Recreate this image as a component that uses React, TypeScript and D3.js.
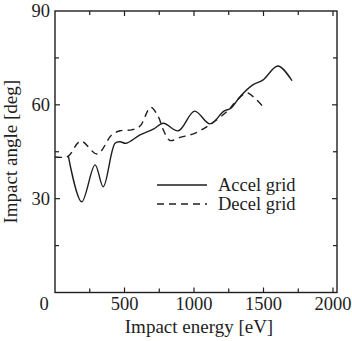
import React from "react";
import * as d3 from "d3";

const accelE = [96, 192, 288, 347, 432, 468, 511, 612, 707, 780, 887, 1004, 1115, 1215, 1265, 1331, 1420, 1495, 1604, 1705];
const accelA = [43.6, 29.0, 40.8, 33.8, 47.7, 48.2, 47.7, 50.4, 52.2, 54.1, 51.7, 58.0, 53.9, 58.0, 58.9, 62.6, 66.3, 67.9, 72.4, 67.7];

const decelE = [0, 50, 96, 185, 304, 408, 468, 552, 612, 688, 743, 779, 827, 899, 1005, 1115, 1240, 1300, 1380, 1440, 1505];
const decelA = [43.3, 43.2, 43.6, 48.4, 44.3, 50.4, 51.7, 52.0, 53.2, 59.2, 56.2, 52.0, 48.6, 49.6, 50.9, 53.7, 58.0, 61.0, 63.8, 62.0, 59.0];

const xTicks = [500, 1000, 1500, 2000];
const yTicks = [30, 60, 90];
const legendLabels = ["Accel grid", "Decel grid"];

const W = 352, H = 341;
const L = 55, R = 337, T = 11, B = 292.5;
const FONT = "'Liberation Serif', 'Times New Roman', serif";
const INK = "#1e1e1e";

export default function App() {
  const x = d3.scaleLinear().domain([0, 2000]).range([L, 333]);
  const y = d3.scaleLinear().domain([0, 90]).range([B, T]);
  const line = d3
    .line<[number, number]>()
    .x((d) => x(d[0]))
    .y((d) => y(d[1]))
    .curve(d3.curveCatmullRom.alpha(0.5));

  const accel = accelE.map((e, i) => [e, accelA[i]] as [number, number]);
  const decel = decelE.map((e, i) => [e, decelA[i]] as [number, number]);

  const xMinor = d3.range(250, 2000, 250);
  const yMinor = d3.range(15, 90, 15);

  return (
    <svg width={W} height={H} style={{ position: "absolute", left: 0, top: 0, background: "#fff" }}>
      {xMinor.map((v) => {
        const major = v % 500 === 0;
        const len = major ? 5 : 4;
        return (
          <g key={"xt" + v} stroke={INK} strokeWidth={1.2}>
            <line x1={x(v)} x2={x(v)} y1={B} y2={B - len} />
            <line x1={x(v)} x2={x(v)} y1={T} y2={T + len} />
          </g>
        );
      })}
      {yMinor.map((v) => {
        const major = v % 30 === 0;
        const len = major ? 5 : 4;
        return (
          <g key={"yt" + v} stroke={INK} strokeWidth={1.2}>
            <line x1={L} x2={L + len} y1={y(v)} y2={y(v)} />
            <line x1={R} x2={R - len} y1={y(v)} y2={y(v)} />
          </g>
        );
      })}
      <line x1={x(2000)} x2={x(2000)} y1={T} y2={T + 5} stroke={INK} strokeWidth={1.2} />
      <line x1={x(2000)} x2={x(2000)} y1={B} y2={B - 5} stroke={INK} strokeWidth={1.2} />
      <rect x={L} y={T} width={R - L} height={B - T} fill="none" stroke={INK} strokeWidth={1.4} />

      <g fontFamily={FONT} fontSize={18.5} fill={INK}>
        {xTicks.map((v) => (
          <text key={"xl" + v} x={x(v)} y={310} textAnchor="middle">
            {v}
          </text>
        ))}
        <text x={44} y={310} textAnchor="middle">0</text>
        {yTicks.map((v) => (
          <text key={"yl" + v} x={50} y={y(v) + 6} textAnchor="end">
            {v}
          </text>
        ))}
      </g>
      <g fontFamily={FONT} fontSize={19} fill={INK}>
        <text x={(L + R) / 2 + 3} y={333} textAnchor="middle">Impact energy [eV]</text>
        <text transform={`translate(17, ${(T + B) / 2}) rotate(-90)`} textAnchor="middle">
          Impact angle [deg]
        </text>
      </g>

      <path d={line(accel) || ""} fill="none" stroke={INK} strokeWidth={1.4} />
      <path d={line(decel) || ""} fill="none" stroke={INK} strokeWidth={1.4} strokeDasharray="7,5" />

      <g fontFamily={FONT} fontSize={18.5} fill={INK}>
        <line x1={157} x2={207} y1={185} y2={185} stroke={INK} strokeWidth={1.4} />
        <text x={218} y={191}>{legendLabels[0]}</text>
        <line x1={157} x2={207} y1={204} y2={204} stroke={INK} strokeWidth={1.4} strokeDasharray="7,5" />
        <text x={218} y={210}>{legendLabels[1]}</text>
      </g>
    </svg>
  );
}
